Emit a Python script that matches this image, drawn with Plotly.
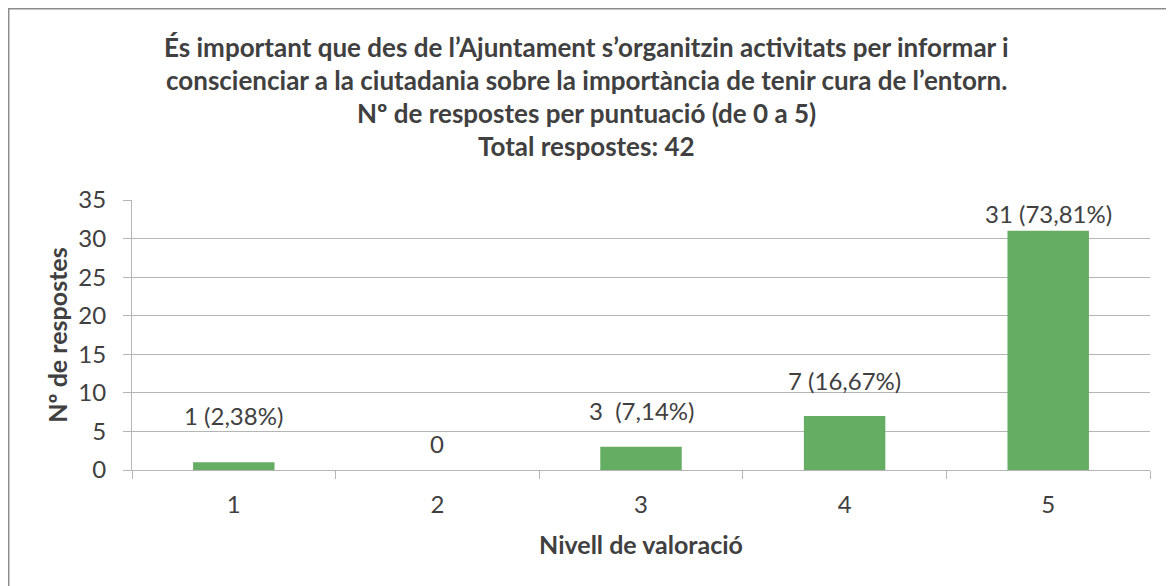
import plotly.graph_objects as go

categories = ["1", "2", "3", "4", "5"]
values = [1, 0, 3, 7, 31]
labels = ["1 (2,38%)", "0", "3  (7,14%)", "7 (16,67%)", "31 (73,81%)"]
title_lines = [
    "És important que des de l’Ajuntament s’organitzin activitats per informar i",
    "conscienciar a la ciutadania sobre la importància de tenir cura de l’entorn.",
    "Nº de respostes per puntuació (de 0 a 5)",
    "Total respostes: 42",
]
x_title = "Nivell de valoració"
y_title = "Nº de respostes"
y_ticks = [0, 5, 10, 15, 20, 25, 30, 35]

# styling
label_yshift = [47, 27, 36, 36, 17]
FONT = "Lato, 'Open Sans', sans-serif"
TXT = "#404040"
GRID = "#b5b5b5"
LBL = 24

fig = go.Figure()
fig.add_trace(go.Bar(x=categories, y=values, marker=dict(color="#65ad62", line=dict(width=0)),
                     hoverinfo="skip"))

for i, (v, t, s) in enumerate(zip(values, labels, label_yshift)):
    fig.add_annotation(x=i, y=v, xref="x", yref="y", text=t, showarrow=False,
                       yshift=s, yanchor="middle",
                       font=dict(family=FONT, size=LBL, color=TXT))

title_y = [1.567, 1.444, 1.322, 1.2]
for line, yy in zip(title_lines, title_y):
    fig.add_annotation(x=0.446, xref="paper", y=yy, yref="paper", text="<b>" + line + "</b>",
                       showarrow=False, yanchor="middle",
                       font=dict(family=FONT, size=26, color=TXT))

# outer chart border
fig.add_shape(type="rect", xref="paper", yref="paper", x0=-0.1211, x1=1.1, y0=-0.5, y1=1.7083,
              line=dict(color="#8c8c8c", width=1.5), fillcolor="rgba(0,0,0,0)", layer="below")

fig.update_layout(
    width=1174, height=586,
    margin=dict(l=124, r=32, t=192, b=124),
    paper_bgcolor="white", plot_bgcolor="white",
    bargap=0.6, showlegend=False,
    font=dict(family=FONT, color=TXT),
)
fig.update_xaxes(
    type="category", tickson="boundaries", ticks="outside", ticklen=8, tickcolor=GRID,
    showline=True, linecolor=GRID, linewidth=1, showgrid=False, automargin=False,
    range=[-0.5, 4.5], ticklabelstandoff=13,
    tickfont=dict(family=FONT, size=LBL, color=TXT),
    title=dict(text="<b>" + x_title + "</b>", font=dict(family=FONT, size=25, color=TXT), standoff=19),
)
fig.update_yaxes(
    range=[0, 35], tickvals=y_ticks, ticks="outside", ticklen=8, tickcolor=GRID,
    showline=True, linecolor=GRID, linewidth=1, showgrid=True, gridcolor=GRID, gridwidth=1,
    zeroline=False, automargin=False, ticklabelstandoff=12,
    tickfont=dict(family=FONT, size=LBL, color=TXT),
    title=dict(text="<b>" + y_title + "</b>", font=dict(family=FONT, size=25, color=TXT), standoff=3),
)

fig.write_html("out.html")
